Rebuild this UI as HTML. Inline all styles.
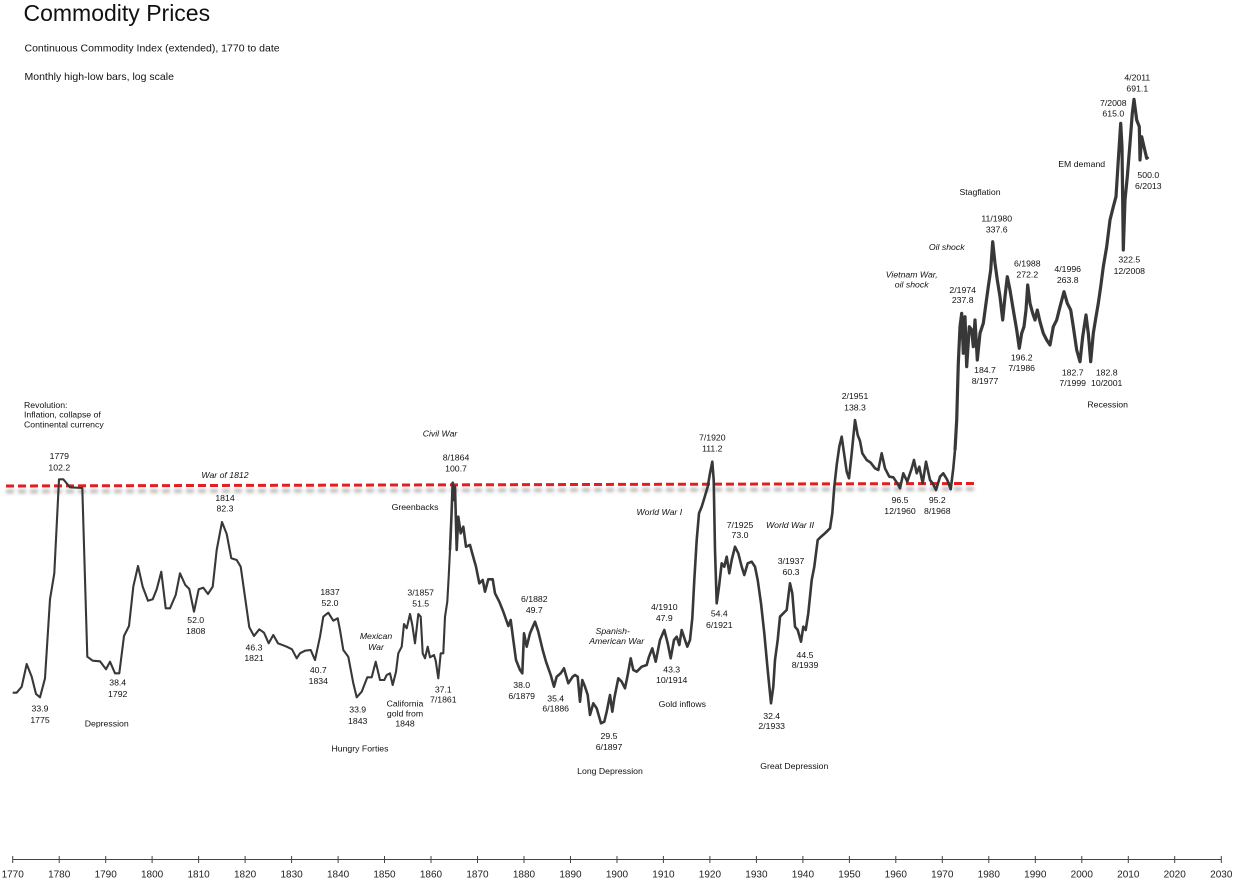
<!DOCTYPE html>
<html><head><meta charset="utf-8"><style>
html,body{margin:0;padding:0;background:#fff;}
svg{display:block;}
text{font-family:"Liberation Sans",Arial,sans-serif;fill:#111;}
.a{font-size:8.7px;text-anchor:middle;}
.i{font-style:italic;}
.l{font-size:8.7px;text-anchor:start;}
.s{font-size:10.5px;text-anchor:start;}
.t{font-size:10px;text-anchor:middle;fill:#222;}
</style></head><body>
<svg width="1240" height="882" viewBox="0 0 1240 882" xmlns="http://www.w3.org/2000/svg">
<defs><filter id="b" x="-5%" y="-200%" width="110%" height="500%"><feGaussianBlur stdDeviation="1.6"/></filter></defs>
<rect width="1240" height="882" fill="#fff"/>
<text x="23.5" y="21" style="font-size:23px">Commodity Prices</text>
<text x="24.5" y="51.5" class="s">Continuous Commodity Index (extended), 1770 to date</text>
<text x="24.5" y="79.8" class="s">Monthly high-low bars, log scale</text>

<line x1="6" y1="491.5" x2="978" y2="489" stroke="#bdbdbd" stroke-width="4" stroke-dasharray="8 4" filter="url(#b)"/>
<line x1="6" y1="486" x2="975" y2="483.5" stroke="#e41e1e" stroke-width="3" stroke-dasharray="8 4"/>

<polyline fill="none" stroke="#383838" stroke-width="2.1" stroke-linejoin="round" points="
12.7,692.7 16.7,692.7 21.7,686.7 26.7,664 31.7,676.7 36,694 40,697.3 45,678.3 50,599.3 54.3,573.3 59,479.3 63.3,479.3 66.7,483.3 70,487.3 82.3,488 87.3,656.7 92.7,660.7 100,661.3 106,669.3 110,661.7 115,673.3 119.3,673.3 124,636 129,626 133.3,586.7 138,566 142.7,586.7 148,600.7 152.7,599.3 156.7,589.3 161.3,571.7 165.7,608.3 170,608.3 175.7,595 180,573.3 185.3,585 189.3,589 194,611.7 198.7,589.3 203.3,587.7 208,594 212.7,586.7 216.7,550 222,522 226.7,534 231.3,558.3 236.7,560 240.7,566.7 249.3,627.3 254,636 259.3,629.3 264,632.7 268.7,643.3 273.3,635 278,643.3 286.7,646.7 292,649.3 296.7,658.3 300,653.3 305,650.7 310.7,650 315,660 320,636.7 323.3,616.7 328.3,612.7 333.3,620.7 337.7,618.3 340,630 343.3,650 348.3,656.7 353.3,683.3 356.7,697.3 361.7,691.7 367.3,677.3 371.7,677.3 375.7,661.7 380,680 384.3,680 386.7,675 390,673.3 392.7,685 396,671.7 398.3,653.3 401.7,646.7 404,624 406.7,628.3 410,614 412.3,625 415,643.3 418.3,614 420.7,616.7 422.7,653.3 425,658.3 427.7,646.7 430,657.3 434,655 435.7,660.7 438.3,678.3 440.7,653.3 443.3,653.3 445,616.7 447.3,601.7 448.7,576.7 450,550"/>
<polyline fill="none" stroke="#383838" stroke-width="2.6" stroke-linejoin="round" points="
450,550 451.3,520 452.7,482.7 454,500 455,486.7 456.7,550 458.3,516.7 460.7,533.3 463.3,526.7 466,546.7 470,545 472.7,555 476,566.7 479.3,583.3 482.7,580 485,591.7 488.3,579.3 492.7,579.3 495,593.3 499.3,601.7 503.3,611.7 508.3,626 510.7,620 513.3,640 516,660 520,670 522.3,673.3 524,633.3 526.7,646.7 530,633.3 535,621.7 538.3,631.7 542.7,650 546,661.7 550.7,675 554,686.7 556.7,676.7 560.7,673.3 564,668.3 568.3,683.3 572.7,676.7 575,675 577.7,676.7 580,701.7 582.3,680 585,686.7 587.7,695 590,715 593.3,703.3 596.7,708.3 601,723.3 604.3,721.7 606.7,711.7 610,695 612.3,711.7 614.3,698.3 618.3,678.3 621.7,681.7 625,688.3 627.7,675 630.7,658.3 633.3,670 636.7,671.7 641.7,666.7 646.7,665 649,656.7 652.3,648.3 655.7,661.7 660,640 664.3,630 667.7,643.3 670.7,658.3 674,640 676.7,636.7 679.3,645 681.7,630 685,640 687.3,646.7 690,640 692.3,618.3 694.3,580 696.7,540 699,513.3 701.7,506.7 704.3,498.3 707.7,486.7 710,473.3 712.3,461.7 713.7,480 715,550 716.7,603.3 719,586.7 721.7,563.3 724.3,566.7 726.7,556.7 729.3,573.3 731.7,560 735,546.7 738.3,553.3 741.7,566.7 744.3,575 747.7,563.3 751.7,561.7 755,566.7 757.7,580 761,603.3 764.3,633.3 767.7,670 771,703.3 773.3,686.7 775,660 777.7,640 780,616.7 783.3,613.3 786.7,610 788.3,596.7 790,583.3 792.3,593.3 795,626.7 797.7,630 801,641.7 803.3,626.7 805.7,630 808.3,613.3 811.7,580 814.3,566.7 817.7,540 821,536.7 825,533.3 830,528.3 832.3,513.3 834.3,486.7 836.7,465 839.3,446.7 841.7,436.7 844.3,455 846.7,471.7 849,478.3 851.7,453.3 855,420 857.7,435 860,441 862.3,453.3 866.7,460 870.7,462.7 875,468.3 878.3,470 881.7,453.3 885,468.3 889.3,476.7 893.3,477.3 897.3,483.3 900,488.3 903.3,473.3 907.3,481.7 911.7,468.3 914,460 916.7,473.3 919.3,466.7 922.7,483.3 926,461.7 930,480 932.7,483.3 936,490 940,476.7 943.3,473.3 947.3,480 950.7,489.3 953.3,468.3 955,450"/>
<polyline fill="none" stroke="#383838" stroke-width="3.2" stroke-linejoin="round" points="
955,450 956.7,420 958.3,363.3 960,326.7 961.7,313.3 963.3,353.3 965,316.7 966.7,366.7 969.3,326.7 971.7,330 973.3,346.7 975,320 977.3,360 980,333.3 983.3,323.3 986,303.3 988.3,286.7 990.7,270 992.7,241.7 995,263.3 997.3,280 1000,296.7 1002.7,320 1005,296.7 1007.3,276.7 1010,290 1013.3,310 1016.7,330 1019.3,348.3 1021.7,333.3 1024,326.7 1026,310 1027.7,285 1030,303.3 1032.7,313.3 1035,320 1037.3,310 1040,321.7 1043.3,333.3 1046.7,340 1050,345 1053.3,326.7 1056.7,320 1060,306.7 1064,291.7 1067.3,303.3 1070.7,310 1073.3,326.7 1076.7,350 1080,361.7 1082.7,336.7 1086,315 1088.3,333.3 1090.7,361.7 1093.3,333.3 1096,316.7 1098.3,303.3 1100.7,286.7 1103.3,266.7 1106.7,246.7 1110,220 1113.3,206.7 1116,196.7 1118.3,160 1120.7,123.3 1122,146.7 1123.3,250 1125,200 1127.3,176.7 1130,143.3 1132.3,113.3 1134,99.3 1136.7,120 1139.3,126.7 1140,160 1141.7,136.7 1144,146.7 1146.7,158.3 1148.3,156.7"/>

<g>
<text x="24" y="408.2" class="l">Revolution:</text>
<text x="24" y="417.6" class="l">Inflation, collapse of</text>
<text x="24" y="427.6" class="l">Continental currency</text>
<text x="59.3" y="458.8" class="a">1779</text><text x="59.3" y="470.4" class="a">102.2</text>
<text x="225" y="478.1" class="a i">War of 1812</text>
<text x="225" y="500.8" class="a">1814</text><text x="225" y="511.4" class="a">82.3</text>
<text x="195.7" y="623.1" class="a">52.0</text><text x="195.7" y="633.8" class="a">1808</text>
<text x="254" y="650.4" class="a">46.3</text><text x="254" y="661.1" class="a">1821</text>
<text x="117.7" y="685.4" class="a">38.4</text><text x="117.7" y="697.1" class="a">1792</text>
<text x="40" y="711.4" class="a">33.9</text><text x="40" y="723.1" class="a">1775</text>
<text x="106.7" y="726.4" class="a">Depression</text>
<text x="440" y="436.4" class="a i">Civil War</text>
<text x="456" y="460.4" class="a">8/1864</text><text x="456" y="471.4" class="a">100.7</text>
<text x="415" y="509.8" class="a">Greenbacks</text>
<text x="330" y="594.8" class="a">1837</text><text x="330" y="605.8" class="a">52.0</text>
<text x="420.7" y="595.4" class="a">3/1857</text><text x="420.7" y="606.4" class="a">51.5</text>
<text x="376" y="638.8" class="a i">Mexican</text><text x="376" y="649.8" class="a i">War</text>
<text x="318.3" y="673.1" class="a">40.7</text><text x="318.3" y="683.8" class="a">1834</text>
<text x="443.3" y="692.4" class="a">37.1</text><text x="443.3" y="702.4" class="a">7/1861</text>
<text x="521.7" y="688.1" class="a">38.0</text><text x="521.7" y="698.8" class="a">6/1879</text>
<text x="534.3" y="602.1" class="a">6/1882</text><text x="534.3" y="613.1" class="a">49.7</text>
<text x="555.7" y="701.4" class="a">35.4</text><text x="555.7" y="711.4" class="a">6/1886</text>
<text x="357.7" y="712.4" class="a">33.9</text><text x="357.7" y="723.8" class="a">1843</text>
<text x="405" y="706.4" class="a">California</text><text x="405" y="716.4" class="a">gold from</text><text x="405" y="726.4" class="a">1848</text>
<text x="360" y="751.4" class="a">Hungry Forties</text>
<text x="712.3" y="440.4" class="a">7/1920</text><text x="712.3" y="451.4" class="a">111.2</text>
<text x="855" y="399.1" class="a">2/1951</text><text x="855" y="410.6" class="a">138.3</text>
<text x="659.3" y="514.8" class="a i">World War I</text>
<text x="740" y="528.1" class="a">7/1925</text><text x="740" y="538.1" class="a">73.0</text>
<text x="790" y="528.1" class="a i">World War II</text>
<text x="791" y="563.8" class="a">3/1937</text><text x="791" y="574.8" class="a">60.3</text>
<text x="664.3" y="609.8" class="a">4/1910</text><text x="664.3" y="620.8" class="a">47.9</text>
<text x="719.3" y="616.4" class="a">54.4</text><text x="719.3" y="628.1" class="a">6/1921</text>
<text x="612.7" y="633.8" class="a i">Spanish-</text><text x="616.7" y="643.8" class="a i">American War</text>
<text x="671.7" y="672.4" class="a">43.3</text><text x="671.7" y="683.1" class="a">10/1914</text>
<text x="805" y="658.1" class="a">44.5</text><text x="805" y="668.1" class="a">8/1939</text>
<text x="682.3" y="707.1" class="a">Gold inflows</text>
<text x="771.7" y="719.1" class="a">32.4</text><text x="771.7" y="729.1" class="a">2/1933</text>
<text x="609" y="739.1" class="a">29.5</text><text x="609" y="749.8" class="a">6/1897</text>
<text x="610" y="773.8" class="a">Long Depression</text>
<text x="794.3" y="769.1" class="a">Great Depression</text>
<text x="946.7" y="249.8" class="a i">Oil shock</text>
<text x="911.7" y="277.4" class="a i">Vietnam War,</text><text x="911.7" y="287.4" class="a i">oil shock</text>
<text x="962.7" y="293.1" class="a">2/1974</text><text x="962.7" y="303.1" class="a">237.8</text>
<text x="1027.3" y="266.4" class="a">6/1988</text><text x="1027.3" y="277.4" class="a">272.2</text>
<text x="1067.7" y="272.1" class="a">4/1996</text><text x="1067.7" y="283.1" class="a">263.8</text>
<text x="1129.3" y="262.4" class="a">322.5</text><text x="1129.3" y="273.8" class="a">12/2008</text>
<text x="985" y="373.1" class="a">184.7</text><text x="985" y="383.8" class="a">8/1977</text>
<text x="1021.7" y="360.4" class="a">196.2</text><text x="1021.7" y="370.8" class="a">7/1986</text>
<text x="1072.7" y="375.4" class="a">182.7</text><text x="1072.7" y="385.8" class="a">7/1999</text>
<text x="1106.7" y="375.4" class="a">182.8</text><text x="1106.7" y="385.8" class="a">10/2001</text>
<text x="1107.7" y="407.4" class="a">Recession</text>
<text x="900" y="503.1" class="a">96.5</text><text x="900" y="513.8" class="a">12/1960</text>
<text x="937.3" y="503.1" class="a">95.2</text><text x="937.3" y="513.8" class="a">8/1968</text>
<text x="1137.3" y="80.4" class="a">4/2011</text><text x="1137.3" y="91.4" class="a">691.1</text>
<text x="1113.3" y="105.8" class="a">7/2008</text><text x="1113.3" y="116.4" class="a">615.0</text>
<text x="1081.7" y="167.1" class="a">EM demand</text>
<text x="1148.3" y="178.1" class="a">500.0</text><text x="1148.3" y="189.1" class="a">6/2013</text>
<text x="980" y="194.8" class="a">Stagflation</text>
<text x="996.7" y="221.4" class="a">11/1980</text><text x="996.7" y="232.4" class="a">337.6</text>
</g>

<g stroke="#444" stroke-width="1">
<line x1="12.7" y1="859.5" x2="1221.3" y2="859.5"/>
<line x1="12.7" y1="856" x2="12.7" y2="863"/>
<line x1="59.2" y1="856" x2="59.2" y2="863"/>
<line x1="105.7" y1="856" x2="105.7" y2="863"/>
<line x1="152.1" y1="856" x2="152.1" y2="863"/>
<line x1="198.6" y1="856" x2="198.6" y2="863"/>
<line x1="245.1" y1="856" x2="245.1" y2="863"/>
<line x1="291.6" y1="856" x2="291.6" y2="863"/>
<line x1="338.1" y1="856" x2="338.1" y2="863"/>
<line x1="384.5" y1="856" x2="384.5" y2="863"/>
<line x1="431.0" y1="856" x2="431.0" y2="863"/>
<line x1="477.5" y1="856" x2="477.5" y2="863"/>
<line x1="524.0" y1="856" x2="524.0" y2="863"/>
<line x1="570.5" y1="856" x2="570.5" y2="863"/>
<line x1="617.0" y1="856" x2="617.0" y2="863"/>
<line x1="663.4" y1="856" x2="663.4" y2="863"/>
<line x1="709.9" y1="856" x2="709.9" y2="863"/>
<line x1="756.4" y1="856" x2="756.4" y2="863"/>
<line x1="802.9" y1="856" x2="802.9" y2="863"/>
<line x1="849.4" y1="856" x2="849.4" y2="863"/>
<line x1="895.8" y1="856" x2="895.8" y2="863"/>
<line x1="942.3" y1="856" x2="942.3" y2="863"/>
<line x1="988.8" y1="856" x2="988.8" y2="863"/>
<line x1="1035.3" y1="856" x2="1035.3" y2="863"/>
<line x1="1081.8" y1="856" x2="1081.8" y2="863"/>
<line x1="1128.3" y1="856" x2="1128.3" y2="863"/>
<line x1="1174.7" y1="856" x2="1174.7" y2="863"/>
<line x1="1221.3" y1="856" x2="1221.3" y2="863"/>
</g>
<g>
<text x="12.7" y="877.3" class="t">1770</text>
<text x="59.2" y="877.3" class="t">1780</text>
<text x="105.7" y="877.3" class="t">1790</text>
<text x="152.1" y="877.3" class="t">1800</text>
<text x="198.6" y="877.3" class="t">1810</text>
<text x="245.1" y="877.3" class="t">1820</text>
<text x="291.6" y="877.3" class="t">1830</text>
<text x="338.1" y="877.3" class="t">1840</text>
<text x="384.5" y="877.3" class="t">1850</text>
<text x="431.0" y="877.3" class="t">1860</text>
<text x="477.5" y="877.3" class="t">1870</text>
<text x="524.0" y="877.3" class="t">1880</text>
<text x="570.5" y="877.3" class="t">1890</text>
<text x="617.0" y="877.3" class="t">1900</text>
<text x="663.4" y="877.3" class="t">1910</text>
<text x="709.9" y="877.3" class="t">1920</text>
<text x="756.4" y="877.3" class="t">1930</text>
<text x="802.9" y="877.3" class="t">1940</text>
<text x="849.4" y="877.3" class="t">1950</text>
<text x="895.8" y="877.3" class="t">1960</text>
<text x="942.3" y="877.3" class="t">1970</text>
<text x="988.8" y="877.3" class="t">1980</text>
<text x="1035.3" y="877.3" class="t">1990</text>
<text x="1081.8" y="877.3" class="t">2000</text>
<text x="1128.3" y="877.3" class="t">2010</text>
<text x="1174.7" y="877.3" class="t">2020</text>
<text x="1221.3" y="877.3" class="t">2030</text>
</g>
</svg>
</body></html>
